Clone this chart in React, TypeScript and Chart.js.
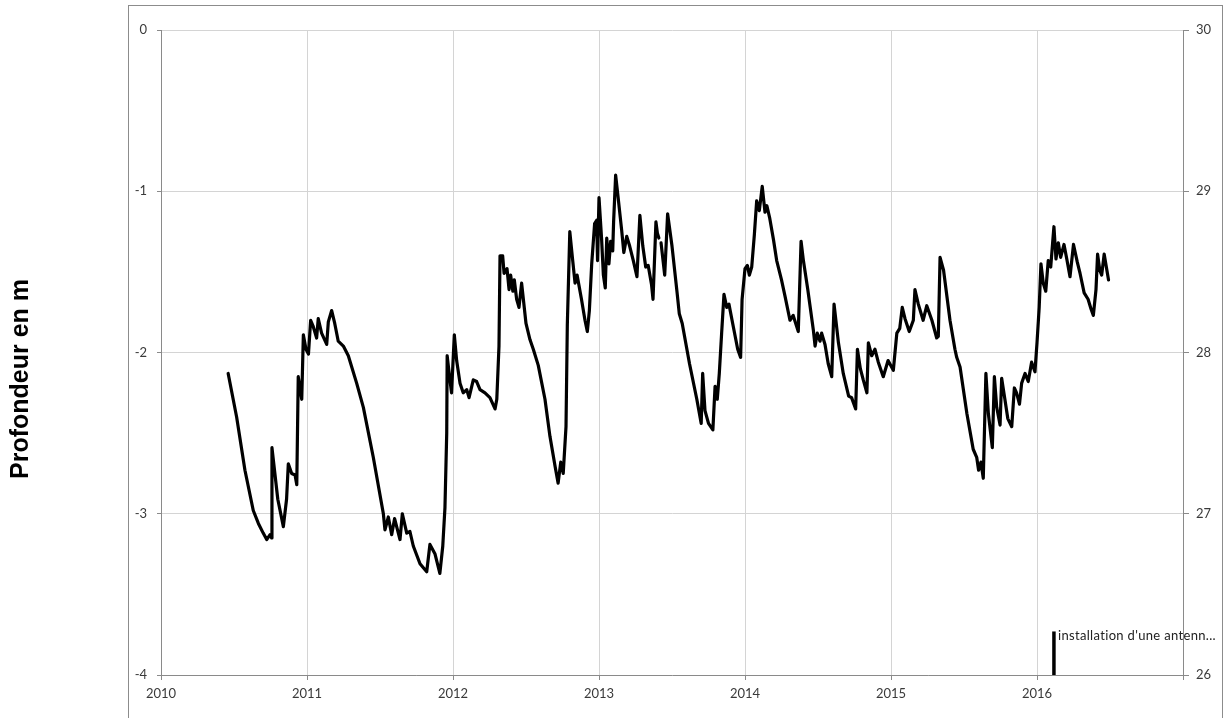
import React, { useEffect, useRef } from 'react';
import { Chart, registerables } from 'chart.js';

Chart.register(...registerables);

// Decimal years of each reading
const dates: number[] = [
  2010.46, 2010.518, 2010.575, 2010.632, 2010.667, 2010.7, 2010.724, 2010.747, 2010.758, 2010.76, 2010.8, 2010.838, 2010.86,
  2010.872, 2010.895, 2010.918, 2010.93, 2010.94, 2010.964, 2010.975, 2010.993,
  2011.01, 2011.025, 2011.043, 2011.066, 2011.077, 2011.1, 2011.135, 2011.146, 2011.169, 2011.19,
  2011.214, 2011.249, 2011.283, 2011.34, 2011.386, 2011.454, 2011.523, 2011.534, 2011.557, 2011.58,
  2011.6, 2011.637, 2011.653, 2011.683, 2011.705, 2011.728, 2011.774, 2011.82, 2011.842, 2011.877,
  2011.91, 2011.93, 2011.945, 2011.957, 2011.96, 2011.979, 2011.99,
  2012.009, 2012.025, 2012.048, 2012.07, 2012.094, 2012.11, 2012.139, 2012.162, 2012.185, 2012.219,
  2012.253, 2012.288, 2012.3, 2012.315, 2012.322, 2012.34, 2012.35, 2012.37, 2012.384, 2012.395,
  2012.41, 2012.42, 2012.436, 2012.452, 2012.47, 2012.5, 2012.527, 2012.55, 2012.584, 2012.63,
  2012.664, 2012.7, 2012.72, 2012.738, 2012.755, 2012.774, 2012.783, 2012.8, 2012.82, 2012.836,
  2012.85, 2012.88, 2012.904, 2012.92, 2012.934, 2012.95, 2012.97, 2012.984, 2012.99,
  2013.0, 2013.018, 2013.03, 2013.043, 2013.053, 2013.068, 2013.08, 2013.094, 2013.1, 2013.114,
  2013.13, 2013.155, 2013.17, 2013.19, 2013.21, 2013.235, 2013.26, 2013.28, 2013.3, 2013.32,
  2013.337, 2013.36, 2013.37, 2013.39, 2013.4, 2013.41, 2013.418, 2013.425, 2013.45, 2013.47,
  2013.5, 2013.535, 2013.55, 2013.57, 2013.62, 2013.67, 2013.7, 2013.71, 2013.726, 2013.75,
  2013.78, 2013.795, 2013.81, 2013.824, 2013.84, 2013.856, 2013.875, 2013.89, 2013.92, 2013.95,
  2013.97, 2013.98,
  2014.0, 2014.016, 2014.03, 2014.046, 2014.064, 2014.08, 2014.098, 2014.118, 2014.137, 2014.15,
  2014.17, 2014.195, 2014.217, 2014.25, 2014.274, 2014.308, 2014.33, 2014.365, 2014.384, 2014.4,
  2014.43, 2014.468, 2014.48, 2014.495, 2014.514, 2014.525, 2014.548, 2014.57, 2014.594, 2014.61,
  2014.64, 2014.673, 2014.71, 2014.73, 2014.758, 2014.77, 2014.79, 2014.81, 2014.835, 2014.845,
  2014.868, 2014.89, 2014.913, 2014.947, 2014.98,
  2015.016, 2015.04, 2015.06, 2015.077, 2015.096, 2015.125, 2015.153, 2015.164, 2015.187, 2015.22,
  2015.245, 2015.28, 2015.313, 2015.324, 2015.336, 2015.36, 2015.404, 2015.438, 2015.45, 2015.473,
  2015.52, 2015.563, 2015.587, 2015.6, 2015.616, 2015.632, 2015.65, 2015.667, 2015.694, 2015.708,
  2015.724, 2015.747, 2015.758, 2015.78, 2015.8, 2015.827, 2015.845, 2015.86, 2015.88, 2015.895,
  2015.918, 2015.94, 2015.963, 2015.986,
  2016.0, 2016.015, 2016.027, 2016.043, 2016.06, 2016.077, 2016.094, 2016.107, 2016.116, 2016.13,
  2016.146, 2016.162, 2016.185, 2016.204, 2016.226, 2016.25, 2016.276, 2016.295, 2016.323, 2016.35,
  2016.37, 2016.386, 2016.404, 2016.415, 2016.43, 2016.443, 2016.46, 2016.49,
];

// Depth in metres (null = gap in the record)
const depths: (number | null)[] = [
  -2.13, -2.4, -2.73, -2.98, -3.06, -3.12, -3.16, -3.13, -3.15, -2.59, -2.91, -3.08, -2.91,
  -2.69, -2.75, -2.76, -2.82, -2.15, -2.29, -1.89, -1.98,
  -2.01, -1.8, -1.84, -1.91, -1.79, -1.88, -1.95, -1.81, -1.74, -1.82,
  -1.93, -1.96, -2.02, -2.19, -2.34, -2.65, -3.0, -3.1, -3.02, -3.13,
  -3.03, -3.16, -3.0, -3.12, -3.11, -3.2, -3.31, -3.36, -3.19, -3.25,
  -3.37, -3.2, -2.96, -2.5, -2.02, -2.17, -2.25,
  -1.89, -2.05, -2.19, -2.25, -2.23, -2.28, -2.17, -2.18, -2.23, -2.25,
  -2.28, -2.35, -2.29, -1.96, -1.4, -1.4, -1.51, -1.48, -1.61, -1.52,
  -1.62, -1.55, -1.67, -1.72, -1.57, -1.82, -1.92, -1.98, -2.08, -2.29,
  -2.52, -2.71, -2.81, -2.68, -2.75, -2.46, -1.83, -1.25, -1.43, -1.57,
  -1.52, -1.67, -1.8, -1.87, -1.74, -1.45, -1.2, -1.18, -1.43,
  -1.04, -1.3, -1.52, -1.6, -1.29, -1.45, -1.31, -1.37, -1.19, -0.9,
  -1.03, -1.24, -1.38, -1.28, -1.34, -1.43, -1.53, -1.15, -1.34, -1.47,
  -1.46, -1.58, -1.67, -1.19, -1.26, -1.29, null, -1.32, -1.52, -1.14,
  -1.34, -1.63, -1.76, -1.82, -2.07, -2.29, -2.44, -2.13, -2.36, -2.44,
  -2.48, -2.21, -2.29, -2.13, -1.88, -1.64, -1.72, -1.7, -1.84, -1.98,
  -2.03, -1.67,
  -1.48, -1.46, -1.52, -1.47, -1.27, -1.06, -1.12, -0.97, -1.13, -1.09,
  -1.17, -1.3, -1.43, -1.55, -1.65, -1.8, -1.77, -1.87, -1.31, -1.43,
  -1.61, -1.86, -1.96, -1.88, -1.93, -1.88, -1.95, -2.07, -2.15, -1.7,
  -1.94, -2.13, -2.27, -2.28, -2.35, -1.98, -2.1, -2.17, -2.25, -1.94,
  -2.02, -1.98, -2.06, -2.15, -2.05,
  -2.11, -1.88, -1.85, -1.72, -1.79, -1.87, -1.8, -1.61, -1.7, -1.8,
  -1.71, -1.8, -1.91, -1.9, -1.41, -1.49, -1.8, -1.98, -2.03, -2.09,
  -2.38, -2.6, -2.65, -2.73, -2.68, -2.78, -2.13, -2.38, -2.59, -2.15,
  -2.34, -2.45, -2.16, -2.29, -2.41, -2.46, -2.22, -2.25, -2.32, -2.19,
  -2.13, -2.18, -2.06, -2.12,
  -1.94, -1.72, -1.45, -1.57, -1.62, -1.43, -1.47, -1.32, -1.22, -1.42,
  -1.32, -1.41, -1.33, -1.42, -1.53, -1.33, -1.44, -1.51, -1.63, -1.67,
  -1.73, -1.77, -1.61, -1.39, -1.49, -1.52, -1.39, -1.55,
];

// Event marker on the secondary axis
const eventDates: number[] = [2016.116, 2016.116];
const eventLevels: number[] = [26, 26.27];
const eventLabel = "installation d'une antenn...";

const yearMin = 2010;
const yearMax = 2017;
const depthMin = -4;
const depthMax = 0;
const rightMin = 26;
const rightMax = 30;
const yTitle = 'Profondeur en m';

const TICK_FONT = { family: 'Lato, "Open Sans", sans-serif', size: 13 };
const TICK_COLOR = '#3a3a3a';
const AXIS_COLOR = '#8a8a8a';
const GRID_COLOR = '#d4d4d4';

const decorPlugin = {
  id: 'decor',
  beforeDraw(chart: any) {
    const ctx = chart.ctx;
    ctx.save();
    ctx.fillStyle = '#ffffff';
    ctx.fillRect(0, 0, chart.width, chart.height);
    ctx.restore();
  },
  afterDraw(chart: any) {
    const ctx = chart.ctx;
    ctx.save();
    // outer chart-area frame
    ctx.strokeStyle = '#8c8c8c';
    ctx.lineWidth = 1;
    ctx.strokeRect(128.5, 5.5, 1094, 800);

    // axis title
    ctx.fillStyle = '#000000';
    ctx.font = 'bold 25px "Liberation Sans", Arial, sans-serif';
    ctx.textAlign = 'center';
    ctx.textBaseline = 'alphabetic';
    ctx.translate(28, 379);
    ctx.rotate(-Math.PI / 2);
    ctx.fillText(yTitle, 0, 0);
    ctx.restore();

    // event label
    const xs = chart.scales.x;
    const ys = chart.scales.y2;
    const px = xs.getPixelForValue(eventDates[1]);
    const py = ys.getPixelForValue(eventLevels[1]);
    ctx.save();
    ctx.fillStyle = '#222222';
    ctx.font = '13px Lato, "Open Sans", sans-serif';
    ctx.textAlign = 'left';
    ctx.textBaseline = 'middle';
    const target = 158;
    const w = ctx.measureText(eventLabel).width;
    if (w < target && 'letterSpacing' in ctx) {
      (ctx as any).letterSpacing = ((target - w) / (eventLabel.length - 1)).toFixed(2) + 'px';
    }
    ctx.fillText(eventLabel, px + 4, py + 4);
    ctx.restore();
  },
};

export default function App() {
  const canvasRef = useRef<HTMLCanvasElement | null>(null);

  useEffect(() => {
    document.body.style.margin = '0';
    const canvas = canvasRef.current;
    if (!canvas) return;

    const series = dates.map((d, i) => ({ x: d, y: depths[i] }));
    const eventSeries = eventDates.map((d, i) => ({ x: d, y: eventLevels[i] }));

    const chart = new Chart(canvas, {
      type: 'line',
      data: {
        datasets: [
          {
            label: 'Profondeur',
            data: series as any,
            borderColor: '#000000',
            borderWidth: 3.2,
            borderJoinStyle: 'round',
            borderCapStyle: 'round',
            pointRadius: 0,
            tension: 0,
            spanGaps: false,
            xAxisID: 'x',
            yAxisID: 'y',
          },
          {
            label: 'Evénement',
            data: eventSeries as any,
            borderColor: '#000000',
            borderWidth: 3.5,
            pointRadius: 0,
            tension: 0,
            xAxisID: 'x',
            yAxisID: 'y2',
          },
        ],
      },
      options: {
        responsive: false,
        animation: false,
        layout: { padding: { top: 30, left: 0, right: 0, bottom: 0 } },
        plugins: {
          legend: { display: false },
          tooltip: { enabled: false },
          title: { display: false },
        },
        scales: {
          x: {
            type: 'linear',
            min: yearMin,
            max: yearMax,
            afterFit: (s: any) => {
              s.height = 43;
            },
            ticks: {
              stepSize: 1,
              autoSkip: false,
              maxRotation: 0,
              padding: 6,
              font: TICK_FONT,
              color: TICK_COLOR,
              callback: (v: any) => (Number(v) === yearMax ? '' : String(v)),
            },
            grid: {
              color: GRID_COLOR,
              tickColor: AXIS_COLOR,
              tickLength: 5,
              lineWidth: 1,
            },
            border: { color: AXIS_COLOR, width: 1 },
          },
          y: {
            type: 'linear',
            position: 'left',
            min: depthMin,
            max: depthMax,
            afterFit: (s: any) => {
              s.width = 161;
            },
            ticks: {
              stepSize: 1,
              padding: 10,
              font: TICK_FONT,
              color: TICK_COLOR,
            },
            grid: {
              color: GRID_COLOR,
              tickColor: AXIS_COLOR,
              tickLength: 4,
            },
            border: { color: AXIS_COLOR, width: 1 },
          },
          y2: {
            type: 'linear',
            position: 'right',
            min: rightMin,
            max: rightMax,
            afterFit: (s: any) => {
              s.width = 44;
            },
            ticks: {
              stepSize: 1,
              padding: 7,
              font: TICK_FONT,
              color: TICK_COLOR,
            },
            grid: {
              drawOnChartArea: false,
              tickColor: AXIS_COLOR,
              tickLength: 6,
            },
            border: { color: AXIS_COLOR, width: 1 },
          },
        },
      },
      plugins: [decorPlugin],
    });

    return () => {
      chart.destroy();
    };
  }, []);

  return (
    <canvas
      ref={canvasRef}
      width={1227}
      height={718}
      style={{ display: 'block', width: '1227px', height: '718px' }}
    />
  );
}
